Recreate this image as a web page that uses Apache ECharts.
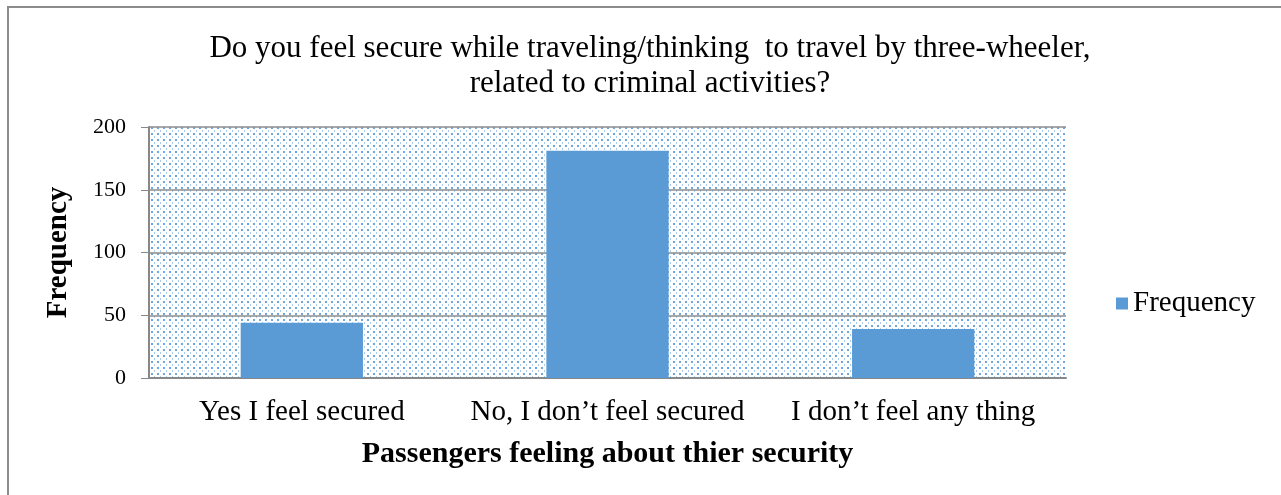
<!DOCTYPE html>
<html>
<head>
<meta charset="utf-8">
<script src="https://cdn.jsdelivr.net/npm/echarts@6/dist/echarts.min.js"></script>
<style>
html,body{margin:0;padding:0;background:#fff;}
#frame{position:absolute;left:7px;top:6px;width:1290px;height:500px;border-left:2px solid #8c8c8c;border-top:2px solid #8c8c8c;box-sizing:border-box;}
#chart{position:absolute;left:0;top:0;width:1281px;height:495px;}
</style>
</head>
<body>
<div id="frame"></div>
<div id="chart"></div>
<script>
const titleLines = ['Do you feel secure while traveling/thinking  to travel by three-wheeler,', 'related to criminal activities?'];
const categories = ['Yes I feel secured', 'No, I don\u2019t feel secured', 'I don\u2019t feel any thing'];
const seriesName = 'Frequency';
const frequency = [44, 181, 39];
const yTicks = [0, 50, 100, 150, 200];
const xAxisName = 'Passengers feeling about thier security';
const yAxisName = 'Frequency';

function makePattern() {
  const c = document.createElement('canvas');
  c.width = 6; c.height = 6;
  const g = c.getContext('2d');
  g.fillStyle = '#ffffff';
  g.fillRect(0, 0, 6, 6);
  g.fillStyle = '#6fa6dc';
  g.fillRect(1, 1, 2, 2);
  g.fillStyle = '#a9cbec';
  g.fillRect(4, 4, 1, 2);
  return c;
}

const chart = echarts.init(document.getElementById('chart'));
chart.setOption({
  animation: false,
  backgroundColor: 'transparent',
  title: {
    text: titleLines.join('\n'),
    left: 645, top: 26, textAlign: 'center',
    textStyle: { fontFamily: 'Liberation Serif', fontSize: 31, fontWeight: 'normal', color: '#000', lineHeight: 35 }
  },
  legend: {
    data: [seriesName],
    left: 1111, top: 284,
    itemWidth: 12, itemHeight: 12, itemGap: 6,
    icon: 'rect',
    textStyle: { fontFamily: 'Liberation Serif', fontSize: 29, color: '#000' }
  },
  grid: {
    left: 149, right: 215, top: 127, bottom: 117,
    show: true,
    borderWidth: 0,
    backgroundColor: { image: makePattern(), repeat: 'repeat' }
  },
  xAxis: {
    type: 'category',
    data: categories,
    name: xAxisName,
    nameLocation: 'middle',
    nameGap: 61,
    nameTextStyle: { fontFamily: 'Liberation Serif', fontSize: 30, fontWeight: 'bold', color: '#000' },
    axisLine: { show: true, lineStyle: { color: '#888', width: 2 } },
    axisTick: { show: false },
    axisLabel: { fontFamily: 'Liberation Serif', fontSize: 29, color: '#000', margin: 20, interval: 0, hideOverlap: false }
  },
  yAxis: {
    type: 'value',
    min: 0, max: 200, interval: 50,
    name: yAxisName,
    nameLocation: 'middle',
    nameGap: 76,
    nameRotate: 90,
    nameTextStyle: { fontFamily: 'Liberation Serif', fontSize: 29, fontWeight: 'bold', color: '#000' },
    axisLine: { show: true, lineStyle: { color: '#888', width: 2 } },
    axisTick: { show: true, length: 8, lineStyle: { color: '#888', width: 1 } },
    splitLine: { show: true, lineStyle: { color: '#8c8c8c', width: 1.5 } },
    axisLabel: { fontFamily: 'Liberation Serif', fontSize: 22, color: '#000', margin: 23,
      formatter: v => yTicks.includes(v) ? String(v) : '' }
  },
  series: [{
    name: seriesName,
    type: 'bar',
    data: frequency,
    barCategoryGap: '60%',
    itemStyle: { color: '#5B9BD5' }
  }]
});
</script>
</body>
</html>
